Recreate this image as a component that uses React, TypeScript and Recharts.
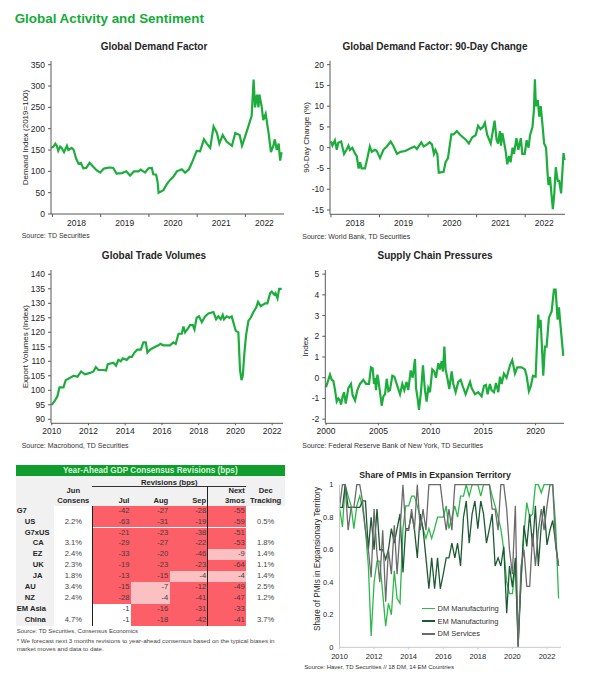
import { Legend, Line, LineChart, XAxis, YAxis } from "recharts";

const GREEN = "#1cad3c";
const FONT = "'Liberation Sans', Arial, sans-serif";
const TEXT = "#262626";
const AXIS = "#595959";

const demandDates = [
  2017.97, 2018.02, 2018.06, 2018.09, 2018.12, 2018.16, 2018.19, 2018.24, 2018.3, 2018.33, 2018.4, 2018.44, 2018.49,
  2018.54, 2018.59, 2018.64, 2018.7, 2018.77, 2018.85, 2018.92, 2018.99, 2019.06, 2019.13, 2019.2, 2019.26, 2019.33,
  2019.44, 2019.53, 2019.61, 2019.69, 2019.78, 2019.83, 2019.92, 2019.99, 2020.06, 2020.09, 2020.15, 2020.18, 2020.2,
  2020.3, 2020.37, 2020.44, 2020.51, 2020.58, 2020.68, 2020.75, 2020.83, 2020.89, 2020.99, 2021.06, 2021.14, 2021.2,
  2021.27, 2021.34, 2021.41, 2021.46, 2021.53, 2021.61, 2021.72, 2021.79, 2021.88, 2021.93, 2021.99, 2022.06, 2022.13,
  2022.17, 2022.2, 2022.24, 2022.27, 2022.29, 2022.34, 2022.37, 2022.42, 2022.48, 2022.53, 2022.58, 2022.61, 2022.65,
  2022.69, 2022.72, 2022.75,
];
const demandValues = [
  155, 158, 165, 160, 148, 158, 155, 145, 160, 150, 155, 150, 130, 118, 120, 107, 108, 120, 110, 102, 97, 106, 108, 109,
  108, 95, 96, 100, 90, 100, 100, 104, 97, 107, 108, 93, 92, 75, 50, 56, 70, 80, 88, 100, 105, 97, 105, 120, 148, 147,
  175, 165, 155, 205, 190, 165, 185, 170, 160, 190, 185, 160, 180, 205, 230, 315, 250, 280, 250, 280, 250, 220, 235, 190,
  145, 160, 175, 150, 165, 125, 145,
];

const changeDates = [
  2018.0, 2018.03, 2018.08, 2018.12, 2018.15, 2018.21, 2018.27, 2018.32, 2018.36, 2018.39, 2018.44, 2018.5, 2018.53,
  2018.57, 2018.6, 2018.63, 2018.7, 2018.75, 2018.8, 2018.84, 2018.9, 2018.94, 2019.01, 2019.08, 2019.15, 2019.23,
  2019.29, 2019.36, 2019.43, 2019.53, 2019.63, 2019.72, 2019.77, 2019.86, 2019.91, 2019.98, 2020.03, 2020.08, 2020.12,
  2020.15, 2020.19, 2020.22, 2020.32, 2020.36, 2020.41, 2020.44, 2020.48, 2020.53, 2020.59, 2020.67, 2020.77, 2020.84,
  2020.91, 2020.98, 2021.03, 2021.08, 2021.13, 2021.17, 2021.22, 2021.29, 2021.37, 2021.41, 2021.44, 2021.48, 2021.5,
  2021.53, 2021.57, 2021.6, 2021.63, 2021.67, 2021.7, 2021.74, 2021.77, 2021.82, 2021.86, 2021.91, 2021.94, 2021.99,
  2022.03, 2022.07, 2022.1, 2022.15, 2022.18, 2022.2, 2022.22, 2022.26, 2022.29, 2022.32, 2022.36, 2022.39, 2022.43,
  2022.46, 2022.48, 2022.51, 2022.54, 2022.57, 2022.6, 2022.63, 2022.67, 2022.7, 2022.74, 2022.77, 2022.79, 2022.81,
];
const changeValues = [
  1.5, 0.5, 1.8, -0.5, 1.2, 1.5, -1.5, -0.5, 0.5, -0.5, 0, -1.5, -2, -5, -3.5, -5, -5, -2.5, 0.3, -1, -0.5, -0.7, -2.5,
  -0.5, 0.3, 1.5, 0.3, -1.5, -1, -0.8, -0.2, 0.3, -0.3, 1.3, 0.3, 0.8, 1.3, 0.8, -1.5, -0.5, -1.5, -6, -5.8, -3.5, -2.5,
  0, 3.2, 3.2, 4, 3, 2, 1, 2.5, 3, 5.3, 4.5, 5, 6, 3, 1, 6.5, 2, 1, 4, 0.5, 3.5, 1, -1, -4, -2, -3.5, 0, -1.5, 2.3, -0.5,
  2.3, -1.5, -1.5, 1.8, 0, 3, 5, 9, 16.5, 10, 11.5, 7.5, 10, 5, 1, 0, -6, -9, -7, -11, -14.8, -11, -4.7, -8, -8, -11, -5,
  -1.3, -3,
];

const tradeDates = [
  2010.0, 2010.18, 2010.31, 2010.42, 2010.64, 2010.76, 2010.91, 2011.18, 2011.4, 2011.6, 2011.81, 2012.09, 2012.27,
  2012.4, 2012.54, 2012.81, 2012.96, 2013.05, 2013.36, 2013.5, 2013.63, 2013.76, 2013.87, 2014.08, 2014.23, 2014.36,
  2014.5, 2014.66, 2014.85, 2014.99, 2015.12, 2015.21, 2015.35, 2015.63, 2015.81, 2015.92, 2016.08, 2016.26, 2016.44,
  2016.62, 2016.75, 2016.9, 2017.08, 2017.17, 2017.26, 2017.44, 2017.53, 2017.68, 2017.77, 2017.89, 2018.02, 2018.17,
  2018.35, 2018.53, 2018.8, 2018.95, 2019.07, 2019.2, 2019.31, 2019.38, 2019.53, 2019.67, 2019.8, 2019.95, 2020.02,
  2020.16, 2020.25, 2020.33, 2020.4, 2020.49, 2020.58, 2020.71, 2020.83, 2020.98, 2021.13, 2021.23, 2021.38, 2021.62,
  2021.74, 2021.89, 2021.98, 2022.11, 2022.18, 2022.29, 2022.38, 2022.52,
];
const tradeValues = [
  95, 96.5, 98, 101, 101, 103.5, 104, 105, 104.7, 106.5, 105.5, 106, 106.5, 108, 107, 107, 106.8, 109, 109.5, 108.5,
  110.5, 110, 111, 110.5, 111.5, 111.5, 113, 114, 114, 116.5, 116.5, 113, 114, 115, 115.5, 116, 115.5, 115.5, 115.5,
  116.5, 116, 119.5, 119.5, 122, 120, 121.5, 122.5, 122.5, 121, 125, 125.5, 123.5, 125.5, 126.5, 127, 124.5, 125.5,
  124.5, 126, 124.5, 125.5, 125, 125.5, 122, 120.5, 120, 107, 103.5, 105, 113, 119, 124, 125, 127, 128.5, 130.5, 129,
  130, 130, 133.5, 134, 133, 133.5, 131.7, 135, 135,
];

const supplyDates = [
  2000.0, 2000.16, 2000.38, 2000.54, 2000.7, 2000.86, 2001.02, 2001.18, 2001.34, 2001.43, 2001.59, 2001.72, 2001.88,
  2002.13, 2002.38, 2002.54, 2002.77, 2002.99, 2003.24, 2003.56, 2003.82, 2004.1, 2004.29, 2004.45, 2004.58, 2004.67,
  2004.77, 2004.9, 2004.99, 2005.15, 2005.31, 2005.47, 2005.63, 2005.79, 2005.95, 2006.1, 2006.33, 2006.52, 2006.74,
  2007.06, 2007.28, 2007.47, 2007.69, 2007.85, 2008.08, 2008.27, 2008.49, 2008.59, 2008.74, 2008.87, 2009.06, 2009.25,
  2009.44, 2009.6, 2009.76, 2009.92, 2010.14, 2010.33, 2010.49, 2010.72, 2010.87, 2011.03, 2011.16, 2011.29, 2011.41,
  2011.61, 2011.76, 2011.99, 2012.15, 2012.37, 2012.62, 2012.85, 2013.04, 2013.32, 2013.74, 2013.9, 2014.21, 2014.53,
  2014.85, 2015.07, 2015.26, 2015.42, 2015.64, 2015.8, 2016.03, 2016.22, 2016.44, 2016.6, 2016.76, 2016.98, 2017.23,
  2017.55, 2017.77, 2018.03, 2018.25, 2018.66, 2018.98, 2019.14, 2019.36, 2019.55, 2019.75, 2020.0, 2020.25, 2020.35,
  2020.48, 2020.73, 2020.89, 2021.05, 2021.27, 2021.53, 2021.75, 2021.91, 2022.1, 2022.23, 2022.38, 2022.64,
];
const supplyValues = [
  -0.45, -0.2, 0.15, -0.1, -0.15, -0.6, -1.15, -1, -1.1, -1.3, -0.9, -0.7, -1.25, -0.5, -0.3, -0.85, -1.1, -0.6, -0.3,
  -0.1, -0.3, -0.3, 0.5, 0.45, -0.3, 0, -0.6, 0.15, -0.1, -0.7, -1.35, -0.9, -0.8, -0.05, -0.65, -0.6, 0.1, 0.05, -0.3,
  -0.8, -0.3, -0.6, -0.2, -0.6, 0.35, 0, 0.9, -0.5, -1, -1.55, -0.7, 0.6, -0.6, -1.15, -0.5, -0.7, 0.4, 0.3, 0, 0.7, 0.4,
  0.8, 0.3, 1.5, 0.4, -0.1, -0.55, 0.3, -0.3, -0.7, -0.2, -0.1, -0.4, -0.8, -0.2, -0.5, -0.8, -0.7, -0.9, -0.4, -0.35,
  -0.8, -0.3, -0.6, -0.7, -0.25, -0.7, 0.05, -0.3, 0.2, 0, 0.6, 0.85, 0.2, 0.5, 0.5, 0.4, 0.1, -0.65, -0.4, 0.1, 0.05,
  3.05, 2.4, 2.8, 0.1, 1.5, 1.5, 2.9, 3.2, 4.25, 4.25, 2.8, 3.4, 2.5, 1.05,
];

const pmiDates = [
  2010.0, 2010.17, 2010.33, 2010.5, 2010.67, 2010.83, 2011.0, 2011.17, 2011.33, 2011.5, 2011.67, 2011.83, 2012.0,
  2012.17, 2012.33, 2012.5, 2012.67, 2012.83, 2013.0, 2013.17, 2013.33, 2013.5, 2013.67, 2013.83, 2014.0, 2014.17,
  2014.33, 2014.5, 2014.67, 2014.83, 2015.0, 2015.17, 2015.33, 2015.5, 2015.67, 2015.83, 2016.0, 2016.17, 2016.33,
  2016.5, 2016.67, 2016.83, 2017.0, 2017.17, 2017.33, 2017.5, 2017.67, 2017.83, 2018.0, 2018.17, 2018.33, 2018.5,
  2018.67, 2018.83, 2019.0, 2019.17, 2019.33, 2019.5, 2019.67, 2019.83, 2020.0, 2020.17, 2020.33, 2020.5, 2020.67,
  2020.83, 2021.0, 2021.17, 2021.33, 2021.5, 2021.67, 2021.83, 2022.0, 2022.17, 2022.33, 2022.5, 2022.67,
];
const dmManufacturing = [
  0.86, 0.74, 1, 0.93, 0.87, 0.73, 0.87, 0.93, 0.86, 0.72, 0.5, 0.07, 0.4, 0.53, 0.53, 0.33, 0.13, 0.27, 0.2, 0.47, 0.3,
  0.27, 0.73, 0.87, 0.87, 0.93, 0.93, 0.87, 0.8, 0.73, 0.67, 0.73, 0.67, 0.73, 0.8, 0.8, 0.8, 0.87, 0.73, 0.8, 0.87, 0.8,
  0.93, 0.93, 1, 0.93, 1, 1, 1, 0.93, 1, 1, 1, 0.93, 0.87, 0.8, 0.73, 0.6, 0.4, 0.33, 0.33, 0.5, 0.05, 0.4, 0.7, 0.89,
  0.8, 0.82, 1, 1, 0.95, 1, 1, 1, 1, 0.75, 0.3,
];
const emManufacturing = [
  0.86, 0.86, 1, 0.86, 0.86, 0.86, 0.86, 0.86, 0.9, 0.9, 0.6, 0.8, 0.6, 0.85, 0.6, 0.6, 0.54, 0.6, 0.73, 0.64, 0.73,
  0.82, 0.46, 0.73, 0.73, 0.82, 0.73, 0.55, 0.82, 0.73, 0.55, 0.36, 0.55, 0.36, 0.55, 0.36, 0.45, 0.55, 0.55, 0.64, 0.55,
  0.64, 0.5, 0.8, 0.9, 0.64, 0.82, 0.9, 0.73, 0.9, 0.82, 0.64, 0.73, 0.82, 0.5, 0.55, 0.5, 0.62, 0.21, 0.5, 0.37, 0.55,
  0, 0.42, 0.75, 0.62, 0.82, 0.62, 0.87, 0.5, 0.75, 0.87, 0.63, 0.72, 0.78, 0.64, 0.5,
];
const dmServices = [
  0.86, 1, 1, 0.72, 0.86, 0.86, 1, 1, 0.9, 0.72, 0.6, 0.43, 0.85, 0.57, 0.4, 0.72, 0.28, 0.6, 0.45, 0.75, 0.45, 0.72, 1,
  0.72, 0.72, 0.85, 0.72, 1, 0.72, 0.85, 0.72, 1, 1, 1, 1, 1, 0.85, 0.72, 0.85, 0.72, 1, 1, 1, 1, 1, 1, 1, 1, 1, 1, 1, 1,
  1, 0.85, 0.85, 0.72, 1, 1, 0.85, 0.6, 0.45, 0.87, 0, 0.5, 0.6, 0.375, 0.375, 0.7, 0.5, 0.72, 0.85, 0.72, 0.87, 1, 1,
  0.62, 0.5,
];

const rowLabels = ["G7", "US", "G7xUS", "CA", "EZ", "UK", "JA", "AU", "NZ", "EM Asia", "China"];
const rowIndents = [0, 1, 1, 2, 2, 2, 2, 1, 1, 0, 1];
const junConsens = ["", "2.2%", "", "3.1%", "2.4%", "2.3%", "1.8%", "3.4%", "2.4%", "", "4.7%"];
const julRevisions = [-42, -63, -21, -29, -33, -19, -13, -15, -28, -1, -1];
const augRevisions = [-27, -31, -23, -27, -20, -23, -15, -7, -4, -16, -18];
const sepRevisions = [-28, -19, -38, -22, -46, -23, -4, -12, -41, -31, -42];
const nextRevisions = [-55, -59, -51, -53, -9, -64, -4, -49, -47, -33, -41];
const decTracking = ["", "0.5%", "", "1.8%", "1.4%", "1.1%", "1.4%", "2.5%", "1.2%", "", "3.7%"];

const toRows = (dates: number[], values: number[]) => dates.map((year, i) => ({ year, value: values[i] }));
const pmiRows = pmiDates.map((year, i) => ({
  year,
  dm: dmManufacturing[i],
  em: emManufacturing[i],
  services: dmServices[i],
}));

function Caption({ x, y, size, bold, center, color, children }: any) {
  return (
    <div
      style={{
        position: "absolute",
        left: x,
        top: y,
        transform: center ? "translate(-50%, -50%)" : "translateY(-50%)",
        fontSize: size,
        fontWeight: bold ? 700 : 400,
        color: color || TEXT,
        whiteSpace: "nowrap",
        lineHeight: 1,
      }}
    >
      {children}
    </div>
  );
}

function YearTick({ x, y, payload, last }: any) {
  // labels sit in the middle of each year, the last year is only partly there
  const shift = payload.value === last ? 19 : 24;
  return (
    <g>
      <line x1={x} x2={x} y1={y} y2={y + 3} stroke={AXIS} />
      <text x={x + shift} y={y + 12} textAnchor="middle" fontSize={8.5} fill={TEXT} fontFamily={FONT}>
        {payload.value}
      </text>
    </g>
  );
}

function SeriesChart({ left, top, width, height, plot, xDomain, yDomain, xTicks, yTicks, yLabel, labelX, rows, midYear }: any) {
  return (
    <div style={{ position: "absolute", left, top }}>
      <LineChart
        width={width}
        height={height}
        data={rows}
        margin={{ top: plot.top, right: plot.right, bottom: 0, left: 0 }}
      >
        <XAxis
          dataKey="year"
          type="number"
          domain={xDomain}
          ticks={xTicks}
          interval={0}
          height={plot.bottom}
          stroke={AXIS}
          tickLine={midYear ? false : { stroke: AXIS }}
          tickSize={midYear ? 0 : 2}
          tickMargin={midYear ? 0 : 3}
          tick={midYear ? (p: any) => <YearTick {...p} last={xTicks[xTicks.length - 1]} /> : { fontSize: 8.5, fill: TEXT }}
        />
        <YAxis
          type="number"
          domain={yDomain}
          ticks={yTicks}
          interval={0}
          width={plot.left}
          stroke={AXIS}
          tickSize={3}
          tickMargin={3}
          tick={{ fontSize: 8.5, fill: TEXT }}
          label={{
            value: yLabel,
            angle: -90,
            position: "insideLeft",
            offset: labelX,
            style: { textAnchor: "middle", fontSize: 8, fill: TEXT },
          }}
        />
        <Line
          dataKey="value"
          type="linear"
          stroke={GREEN}
          strokeWidth={2.2}
          dot={false}
          isAnimationActive={false}
        />
      </LineChart>
    </div>
  );
}

const COL_EDGES = [15.7, 54.3, 92.3, 131, 169.7, 207.7, 246.3, 285];
const ROW_TOP = 505.7;
const ROW_H = 10.9;

function cellColor(v: number) {
  if (v >= -1) return "#ffffff";
  if (v > -10) return "#fbc0c2";
  return "#fd5f68";
}

function RevisionCell({ value, col, row }: any) {
  return (
    <div
      style={{
        position: "absolute",
        left: COL_EDGES[col],
        top: ROW_TOP + row * ROW_H,
        width: COL_EDGES[col + 1] - COL_EDGES[col],
        height: ROW_H,
        lineHeight: `${ROW_H}px`,
        background: cellColor(value),
        color: "#4a3a3a",
        textAlign: "right",
        paddingRight: 1.5,
        boxSizing: "border-box",
        fontSize: 7.6,
      }}
    >
      {value}
    </div>
  );
}

function RevisionsTable() {
  const revisionCols = [julRevisions, augRevisions, sepRevisions, nextRevisions];
  const headStyle = { position: "absolute", fontSize: 7.6, fontWeight: 700, color: TEXT, lineHeight: 1 } as any;
  return (
    <>
      <div style={{ position: "absolute", left: 15.7, top: 476, width: 269.3, height: 29.7, background: "#f1f1f1" }} />
      <div style={{ position: "absolute", left: 15.7, top: 505.7, width: 38.6, height: 120, background: "#f1f1f1" }} />
      <div
        style={{
          position: "absolute",
          left: 15.7,
          top: 464.7,
          width: 269.3,
          height: 11.6,
          background: "#0f9d2e",
          color: "#d9f5dd",
          fontSize: 8.2,
          fontWeight: 700,
          textAlign: "center",
          lineHeight: "11.6px",
        }}
      >
        Year-Ahead GDP Consensus Revisions (bps)
      </div>
      <div style={{ ...headStyle, left: 92.3, width: 154, textAlign: "center", top: 478.5 }}>Revisions (bps)</div>
      <div style={{ ...headStyle, left: 54.3, width: 38, textAlign: "center", top: 487 }}>Jun</div>
      <div style={{ ...headStyle, left: 54.3, width: 38, textAlign: "center", top: 496.5 }}>Consens</div>
      {["Jul", "Aug", "Sep"].map((m, i) => (
        <div key={m} style={{ ...headStyle, left: COL_EDGES[i + 2], width: COL_EDGES[i + 3] - COL_EDGES[i + 2] - 1.5, textAlign: "right", top: 496.5 }}>
          {m}
        </div>
      ))}
      <div style={{ ...headStyle, left: 207.7, width: 37.2, textAlign: "right", top: 487 }}>Next</div>
      <div style={{ ...headStyle, left: 207.7, width: 37.2, textAlign: "right", top: 496.5 }}>3mos</div>
      <div style={{ ...headStyle, left: 246.3, width: 38.7, textAlign: "center", top: 487 }}>Dec</div>
      <div style={{ ...headStyle, left: 246.3, width: 38.7, textAlign: "center", top: 496.5 }}>Tracking</div>
      {rowLabels.map((label, row) => (
        <div key={label}>
          <div
            style={{
              position: "absolute",
              left: 16.7 + rowIndents[row] * 8,
              top: ROW_TOP + row * ROW_H,
              lineHeight: `${ROW_H}px`,
              fontSize: 7.6,
              fontWeight: 700,
              color: TEXT,
            }}
          >
            {label}
          </div>
          <div style={{ position: "absolute", left: 54.3, width: 38, top: ROW_TOP + row * ROW_H, lineHeight: `${ROW_H}px`, textAlign: "center", fontSize: 7.6, color: "#444" }}>
            {junConsens[row]}
          </div>
          {revisionCols.map((values, c) => (
            <RevisionCell key={c} value={values[row]} col={c + 2} row={row} />
          ))}
          <div style={{ position: "absolute", left: 246.3, width: 38.7, top: ROW_TOP + row * ROW_H, lineHeight: `${ROW_H}px`, textAlign: "center", fontSize: 7.6, color: "#444" }}>
            {decTracking[row]}
          </div>
        </div>
      ))}
      <div style={{ position: "absolute", left: 92.3, top: 486, width: 154, height: 1, background: "#333" }} />
      <div style={{ position: "absolute", left: 92, top: 505.7, width: 1, height: 120, background: "#222" }} />
      <div style={{ position: "absolute", left: 207.2, top: 486, width: 1, height: 139.7, background: "#222" }} />
    </>
  );
}

function PmiLegend({ payload }: any) {
  return (
    <div>
      {(payload || []).map((item: any) => (
        <div key={item.value} style={{ display: "flex", alignItems: "center", height: 12.8 }}>
          <div style={{ width: 13, height: 1.5, background: item.color, marginRight: 2.5 }} />
          <span style={{ fontSize: 7.5, color: "#333", whiteSpace: "nowrap" }}>{item.value}</span>
        </div>
      ))}
    </div>
  );
}

function PmiChart() {
  return (
    <div style={{ position: "absolute", left: 295, top: 470 }}>
      <LineChart width={270} height={195} data={pmiRows} margin={{ top: 14.7, right: 4, bottom: 0, left: 0 }}>
        <XAxis
          dataKey="year"
          type="number"
          domain={[2010, 2022.81]}
          ticks={[2010, 2012, 2014, 2016, 2018, 2020, 2022]}
          interval={0}
          height={17.7}
          stroke="#c9c9c9"
          tickLine={{ stroke: "#c9c9c9" }}
          tickSize={2}
          tickMargin={4}
          tick={{ fontSize: 7.5, fill: TEXT }}
        />
        <YAxis
          type="number"
          domain={[0, 1]}
          ticks={[0, 0.2, 0.4, 0.6, 0.8, 1]}
          interval={0}
          width={44.5}
          stroke="#c9c9c9"
          tickLine={false}
          tickSize={0}
          tickMargin={6}
          tick={{ fontSize: 7.5, fill: TEXT }}
          label={{
            value: "Share of PMIs in Expansionary Territory",
            angle: -90,
            position: "insideLeft",
            offset: 21.7,
            dy: -7,
            style: { textAnchor: "middle", fontSize: 8.2, fill: TEXT },
          }}
        />
        <Legend
          layout="vertical"
          align="center"
          verticalAlign="middle"
          itemSorter="dataKey"
          wrapperStyle={{ left: 127, top: 132, width: 90 }}
          content={(p: any) => <PmiLegend {...p} />}
        />
        <Line name="DM Manufacturing" dataKey="dm" stroke="#2fb84c" strokeWidth={1.3} dot={false} isAnimationActive={false} />
        <Line name="EM Manufacturing" dataKey="em" stroke="#1d5a33" strokeWidth={1.3} dot={false} isAnimationActive={false} />
        <Line name="DM Services" dataKey="services" stroke="#6b6b6b" strokeWidth={1.3} dot={false} isAnimationActive={false} />
      </LineChart>
    </div>
  );
}

export default function App() {
  return (
    <div style={{ position: "absolute", left: 0, top: 0, width: 589, height: 680, background: "#fff", fontFamily: FONT, overflow: "hidden" }}>
      <Caption x={14.7} y={19} size={13.4} bold color="#14ab38">Global Activity and Sentiment</Caption>

      <Caption x={154} y={47} size={10} bold center>Global Demand Factor</Caption>
      <SeriesChart
        left={0}
        top={55}
        width={290}
        height={175}
        plot={{ left: 51, right: 6, top: 6, bottom: 16 }}
        xDomain={[2017.97, 2022.8]}
        yDomain={[0, 358.7]}
        xTicks={[2018, 2019, 2020, 2021, 2022]}
        yTicks={[0, 50, 100, 150, 200, 250, 300, 350]}
        yLabel="Demand Index (2019=100)"
        labelX={24.7}
        rows={toRows(demandDates, demandValues)}
        midYear
      />
      <Caption x={21.7} y={235.3} size={7} color="#333">Source: TD Securities</Caption>

      <Caption x={435} y={47} size={10} bold center>Global Demand Factor: 90-Day Change</Caption>
      <SeriesChart
        left={295}
        top={55}
        width={280}
        height={175}
        plot={{ left: 35, right: 10, top: 5.7, bottom: 15.7 }}
        xDomain={[2017.98, 2022.82]}
        yDomain={[-16.04, 20.96]}
        xTicks={[2018, 2019, 2020, 2021, 2022]}
        yTicks={[-15, -10, -5, 0, 5, 10, 15, 20]}
        yLabel="90-Day Change (%)"
        labelX={10.7}
        rows={toRows(changeDates, changeValues)}
        midYear
      />
      <Caption x={302.3} y={235.7} size={7} color="#333">Source: World Bank, TD Securities</Caption>

      <Caption x={154} y={256.3} size={10} bold center>Global Trade Volumes</Caption>
      <SeriesChart
        left={0}
        top={264}
        width={290}
        height={175}
        plot={{ left: 51, right: 7, top: 6, bottom: 15.7 }}
        xDomain={[2009.96, 2022.59]}
        yDomain={[88.62, 141.48]}
        xTicks={[2010, 2012, 2014, 2016, 2018, 2020, 2022]}
        yTicks={[90, 95, 100, 105, 110, 115, 120, 125, 130, 135, 140]}
        yLabel="Export Volumes (Index)"
        labelX={24.7}
        rows={toRows(tradeDates, tradeValues)}
      />
      <Caption x={21.7} y={444.7} size={7} color="#333">Source: Macrobond, TD Securities</Caption>

      <Caption x={435} y={256.3} size={10} bold center>Supply Chain Pressures</Caption>
      <SeriesChart
        left={295}
        top={264}
        width={280}
        height={175}
        plot={{ left: 30.3, right: 11, top: 6, bottom: 15.7 }}
        xDomain={[1999.93, 2022.71]}
        yDomain={[-2.2, 5.2]}
        xTicks={[2000, 2005, 2010, 2015, 2020]}
        yTicks={[-2, -1, 0, 1, 2, 3, 4, 5]}
        yLabel="Index"
        labelX={10}
        rows={toRows(supplyDates, supplyValues)}
      />
      <Caption x={302.3} y={444.7} size={7} color="#333">Source: Federal Reserve Bank of New York, TD Securities</Caption>

      <RevisionsTable />
      <Caption x={16.7} y={631.7} size={5.95} color="#444">Source: TD Securities, Consensus Economics</Caption>
      <Caption x={16.7} y={640.7} size={6.2} color="#444">* We forecast next 3 months revisions to year-ahead consensus based on the typical biases in</Caption>
      <Caption x={16.7} y={648.7} size={6.2} color="#444">market moves and data to date.</Caption>

      <Caption x={435} y={475} size={8.7} bold center>Share of PMIs in Expansion Territory</Caption>
      <PmiChart />
      <Caption x={304.3} y={666.7} size={6} color="#333">Source: Haver, TD Securities // 18 DM, 14 EM Countries</Caption>
    </div>
  );
}
